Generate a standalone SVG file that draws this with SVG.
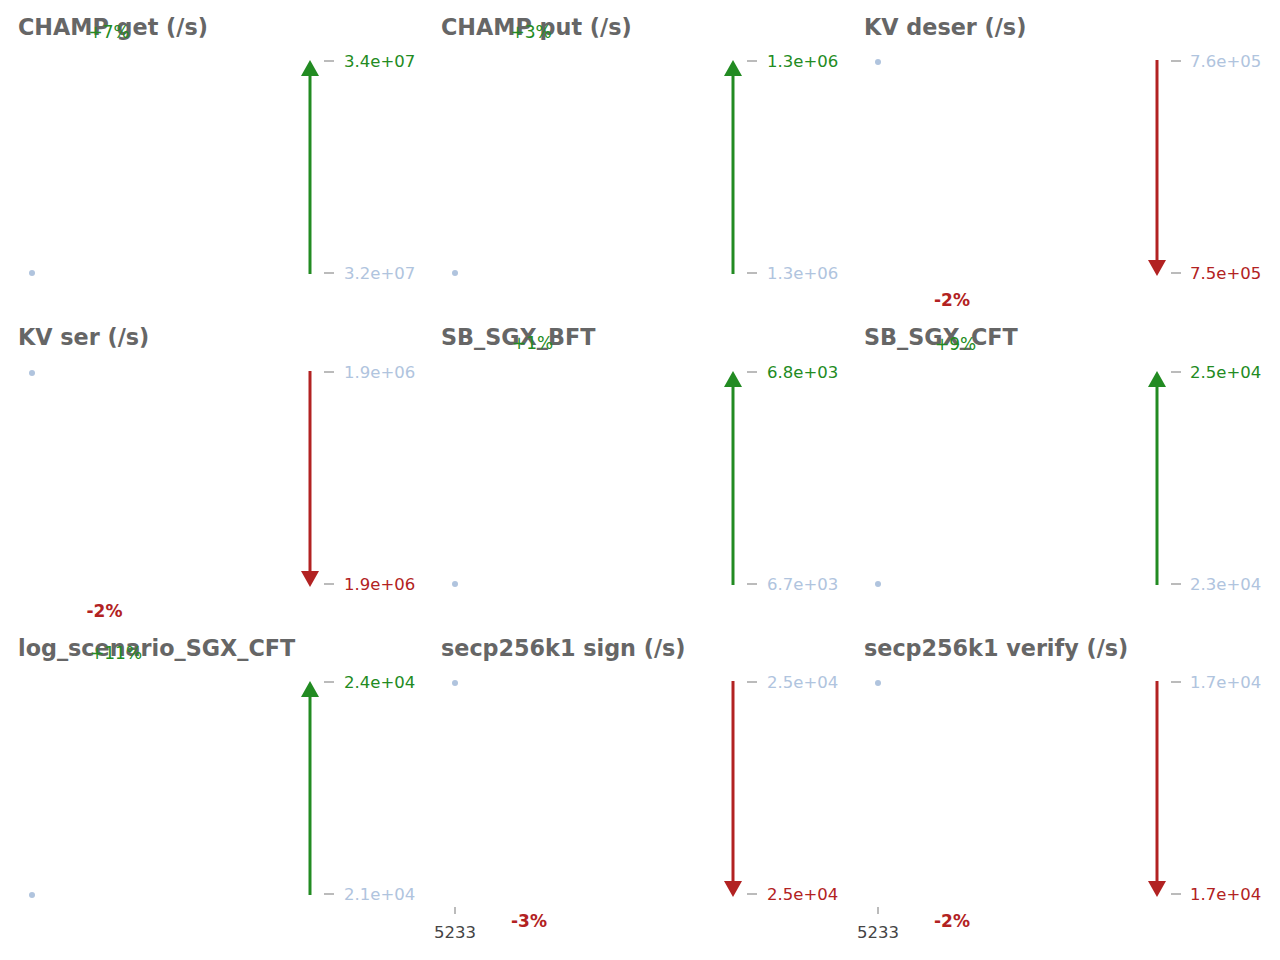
<svg xmlns="http://www.w3.org/2000/svg" width="1280" height="960" viewBox="0 0 1280 960">
<style>
text{font-family:"DejaVu Sans","Liberation Sans",sans-serif}
.title{font-size:22.3px;font-weight:bold;fill:#666666}
.tick{font-size:16.5px}
.from{fill:#b0c4de}
.up{fill:#228b22}
.down{fill:#b22222}
.pct{font-size:17px}
.pct.down{font-weight:bold}
.tm{stroke:#bbbbbb;stroke-width:2}
.dot{fill:#b0c4de}
.xl{font-size:16.5px;fill:#444444;text-anchor:middle}
.aup{stroke:#228b22;stroke-width:3;fill:none;marker-end:url(#hg)}
.adn{stroke:#b22222;stroke-width:3;fill:none;marker-end:url(#hr)}
</style>
<defs>
<marker id="hg" markerUnits="userSpaceOnUse" markerWidth="16" markerHeight="18" viewBox="0 0 16 18" refX="0" refY="9" orient="auto"><path d="M0,0 L16,9 L0,18 z" fill="#228b22"/></marker>
<marker id="hr" markerUnits="userSpaceOnUse" markerWidth="16" markerHeight="18" viewBox="0 0 16 18" refX="0" refY="9" orient="auto"><path d="M0,0 L16,9 L0,18 z" fill="#b22222"/></marker>
</defs>
<rect width="1280" height="960" fill="#ffffff"/>

<g id="champ-get">
<text class="title" x="18" y="35">CHAMP get (/s)</text>
<circle class="dot" cx="32" cy="273" r="3"/>
<line class="tm" x1="324" y1="61" x2="334" y2="61"/><line class="tm" x1="324" y1="273" x2="334" y2="273"/>
<text class="tick up" x="344" y="67">3.4e+07</text>
<text class="tick from" x="344" y="279">3.2e+07</text>
<text class="pct up" x="88.5" y="38">+7%</text>
</g>
<g id="champ-put">
<text class="title" x="441" y="35">CHAMP put (/s)</text>
<circle class="dot" cx="455" cy="273" r="3"/>
<line class="tm" x1="747" y1="61" x2="757" y2="61"/><line class="tm" x1="747" y1="273" x2="757" y2="273"/>
<text class="tick up" x="767" y="67">1.3e+06</text>
<text class="tick from" x="767" y="279">1.3e+06</text>
<text class="pct up" x="510.5" y="38">+3%</text>
</g>
<g id="kv-deser">
<text class="title" x="864" y="35">KV deser (/s)</text>
<circle class="dot" cx="878" cy="62" r="3"/>
<line class="tm" x1="1171" y1="61" x2="1181" y2="61"/><line class="tm" x1="1171" y1="273" x2="1181" y2="273"/>
<text class="tick from" x="1190" y="67">7.6e+05</text>
<text class="tick down" x="1190" y="279">7.5e+05</text>
<text class="pct down" x="934" y="306">-2%</text>
</g>

<g id="kv-ser">
<text class="title" x="18" y="345">KV ser (/s)</text>
<circle class="dot" cx="32" cy="373" r="3"/>
<line class="tm" x1="324" y1="372" x2="334" y2="372"/><line class="tm" x1="324" y1="584" x2="334" y2="584"/>
<text class="tick from" x="344" y="378">1.9e+06</text>
<text class="tick down" x="344" y="590">1.9e+06</text>
<text class="pct down" x="86.5" y="617">-2%</text>
</g>
<g id="sb-sgx-bft">
<text class="title" x="441" y="345">SB_SGX_BFT</text>
<circle class="dot" cx="455" cy="584" r="3"/>
<line class="tm" x1="747" y1="372" x2="757" y2="372"/><line class="tm" x1="747" y1="584" x2="757" y2="584"/>
<text class="tick up" x="767" y="378">6.8e+03</text>
<text class="tick from" x="767" y="590">6.7e+03</text>
<text class="pct up" x="512" y="349">+1%</text>
</g>
<g id="sb-sgx-cft">
<text class="title" x="864" y="345">SB_SGX_CFT</text>
<circle class="dot" cx="878" cy="584" r="3"/>
<line class="tm" x1="1171" y1="372" x2="1181" y2="372"/><line class="tm" x1="1171" y1="584" x2="1181" y2="584"/>
<text class="tick up" x="1190" y="378">2.5e+04</text>
<text class="tick from" x="1190" y="590">2.3e+04</text>
<text class="pct up" x="935" y="350">+9%</text>
</g>

<g id="log-scenario-sgx-cft">
<text class="title" x="18" y="656">log_scenario_SGX_CFT</text>
<circle class="dot" cx="32" cy="895" r="3"/>
<line class="tm" x1="324" y1="682" x2="334" y2="682"/><line class="tm" x1="324" y1="894" x2="334" y2="894"/>
<text class="tick up" x="344" y="688">2.4e+04</text>
<text class="tick from" x="344" y="900">2.1e+04</text>
<text class="pct up" x="90" y="659">+11%</text>
</g>
<g id="secp256k1-sign">
<text class="title" x="441" y="656">secp256k1 sign (/s)</text>
<circle class="dot" cx="455" cy="683" r="3"/>
<line class="tm" x1="747" y1="682" x2="757" y2="682"/><line class="tm" x1="747" y1="894" x2="757" y2="894"/>
<text class="tick from" x="767" y="688">2.5e+04</text>
<text class="tick down" x="767" y="900">2.5e+04</text>
<text class="pct down" x="511" y="927">-3%</text>
<line class="tm" x1="455" y1="907" x2="455" y2="914"/>
<text class="xl" x="455" y="938">5233</text>
</g>
<g id="secp256k1-verify">
<text class="title" x="864" y="656">secp256k1 verify (/s)</text>
<circle class="dot" cx="878" cy="683" r="3"/>
<line class="tm" x1="1171" y1="682" x2="1181" y2="682"/><line class="tm" x1="1171" y1="894" x2="1181" y2="894"/>
<text class="tick from" x="1190" y="688">1.7e+04</text>
<text class="tick down" x="1190" y="900">1.7e+04</text>
<text class="pct down" x="934" y="927">-2%</text>
<line class="tm" x1="878" y1="907" x2="878" y2="914"/>
<text class="xl" x="878" y="938">5233</text>
</g>

<g id="connectors">
<line class="aup" x1="310" y1="274" x2="310" y2="76"/>
<line class="aup" x1="733" y1="274" x2="733" y2="76"/>
<line class="adn" x1="1157" y1="60" x2="1157" y2="260"/>
<line class="adn" x1="310" y1="371" x2="310" y2="571"/>
<line class="aup" x1="733" y1="585" x2="733" y2="387"/>
<line class="aup" x1="1157" y1="585" x2="1157" y2="387"/>
<line class="aup" x1="310" y1="895" x2="310" y2="697"/>
<line class="adn" x1="733" y1="681" x2="733" y2="881"/>
<line class="adn" x1="1157" y1="681" x2="1157" y2="881"/>
</g>
</svg>
